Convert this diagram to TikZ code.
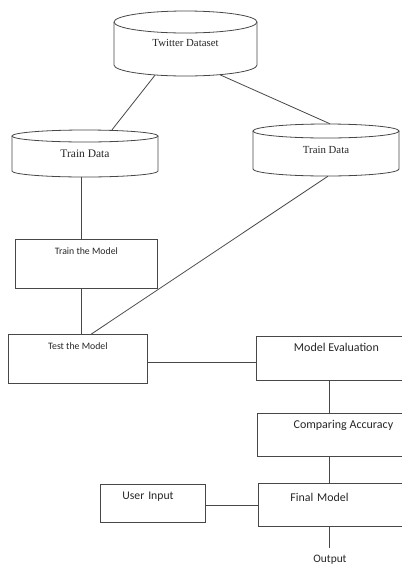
\documentclass[tikz,border=0pt]{standalone}
\usepackage{fontspec}
\setmainfont{Liberation Serif}
\newfontfamily\boxfont{Carlito}
\usetikzlibrary{calc}
\newcommand\dbdraw[5]{% cx, rx, y top centre, y bottom centre, ry
  \draw[line] (#1,#3) ellipse [x radius=#2pt, y radius=#5pt];
  \draw[line] ({#1-#2},#3) -- ({#1-#2},#4)
    arc[start angle=180, end angle=360, x radius=#2pt, y radius=#5pt]
    -- ({#1+#2},#3);}
\tikzset{
  line/.style={draw=black!72, line width=0.8pt},
  dbnode/.style={rectangle, inner sep=0pt, text=black!85, font=\fontsize{10.8}{12}\selectfont},
  boxnode/.style={rectangle, draw=black!72, line width=0.8pt, inner xsep=0pt, inner ysep=0pt,
    anchor=north west, text=black!85, text height=15pt},
  lbl/.style={inner xsep=0pt, text=black!85}
}
\begin{document}
\begin{tikzpicture}[x=1pt,y=1pt]
\useasboundingbox (0,0) rectangle (402,-566);
% cylinders
\dbdraw{185.5}{71.5}{-22}{-65}{11}
\node[dbnode, minimum width=143pt, minimum height=66pt] (tw) at (185.5,-43) {Twitter Dataset};
\dbdraw{85}{73}{-136}{-171}{6}
\node[dbnode, minimum width=146pt, minimum height=47pt, font=\fontsize{11.5}{13}\selectfont] (trL) at (85,-153.5) {Train Data};
\dbdraw{326}{73}{-131}{-169}{7}
\node[dbnode, minimum width=146pt, minimum height=52pt] (trR) at (326,-150) {Train Data};
% boxes
\node[boxnode, minimum width=142pt, text depth=34pt, font=\boxfont\fontsize{9.8}{11}\selectfont] (tm) at (15,-239) {Train the Model};
\node[boxnode, minimum width=139pt, text depth=34pt, font=\boxfont\fontsize{9.8}{11}\selectfont] (test) at (8,-334) {Test the Model};
\node[boxnode, minimum width=160pt, text depth=29pt, font=\boxfont\fontsize{12}{14}\selectfont] (me) at (256,-336) {Model Evaluation};
\node[boxnode, minimum width=172pt, text depth=28pt, font=\boxfont\fontsize{12}{14}\selectfont] (ca) at (257,-413) {Comparing Accuracy};
\node[boxnode, align=left, inner xsep=32pt, text width=100pt, text height=18pt, text depth=25pt, font=\boxfont\fontsize{11.9}{14}\selectfont] (fm) at (258,-483) {Final Model};
\node[boxnode, align=left, inner xsep=22pt, text width=61pt, text depth=23pt, font=\boxfont\fontsize{11.7}{14}\selectfont] (ui) at (100,-484) {User Input};
\node[lbl, anchor=base, inner ysep=6.5pt, font=\boxfont\fontsize{11.4}{13}\selectfont] (out) at (330,-562.5) {Output};
% connectors
\draw[line] ([xshift=-30.5pt,yshift=1pt]tw.south) -- ([xshift=27pt]trL.north);
\draw[line] ([xshift=34.5pt,yshift=1.4pt]tw.south) -- ([xshift=4pt]trR.north);
\draw[line] ([xshift=-4pt]trL.south) -- ([xshift=-4pt]trL.south |- tm.north);
\draw[line] ([xshift=-5pt]tm.south) -- ([xshift=-5pt]tm.south |- test.north);
\draw[line] ([xshift=2pt]trR.south) -- ([xshift=13.5pt]test.north);
\draw[line] ([yshift=-3.5pt]test.east) -- ([yshift=-3.5pt]test.east -| me.west);
\draw[line] ([xshift=-7pt]me.south) -- ([xshift=-7pt]me.south |- ca.north);
\draw[line] ([xshift=-14pt]ca.south) -- ([xshift=-14pt]ca.south |- fm.north);
\draw[line] ([yshift=-2pt]ui.east) -- ([yshift=-2pt]ui.east -| fm.west);
\draw[line] ([xshift=-11pt]fm.south) -- ([xshift=-11pt]fm.south |- out.north);
\end{tikzpicture}
\end{document}
